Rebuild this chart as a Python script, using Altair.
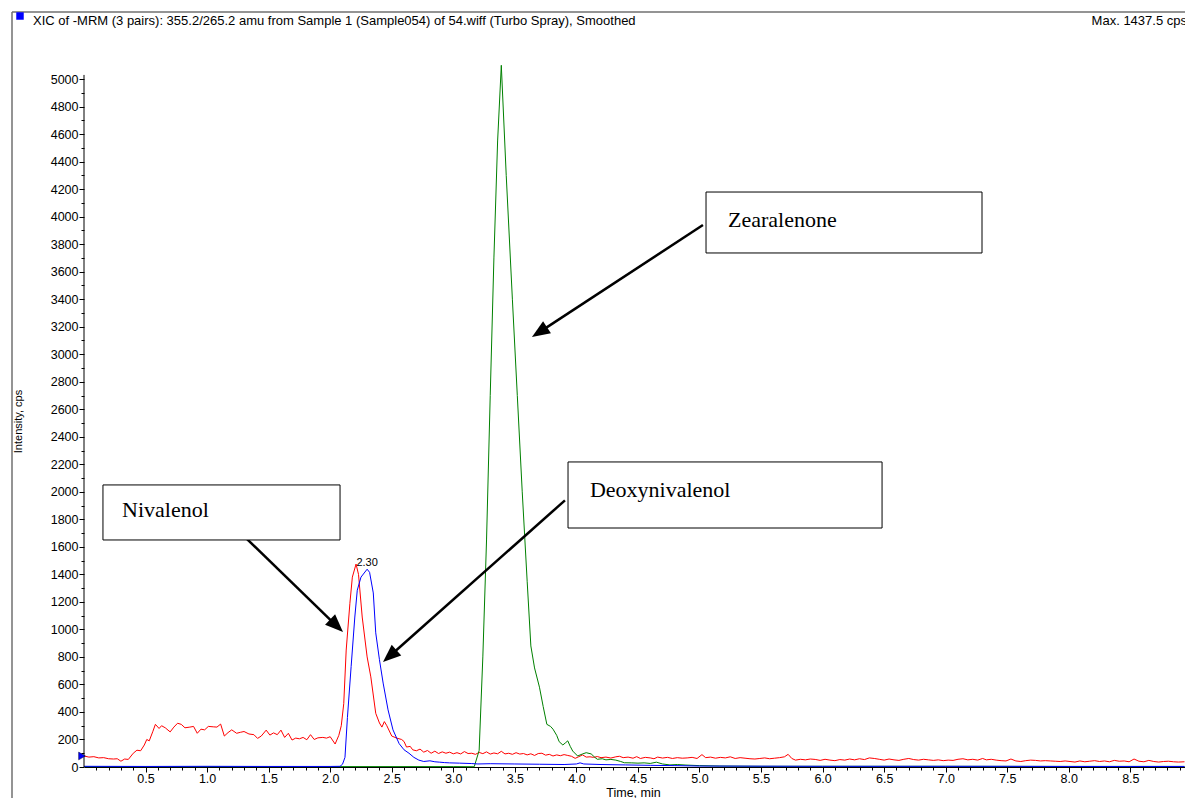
import math
import altair as alt
import pandas as pd

TITLE = "XIC of -MRM (3 pairs): 355.2/265.2 amu from Sample 1 (Sample054) of 54.wiff (Turbo Spray), Smoothed"
MAX_TEXT = "Max. 1437.5 cps"
X_TITLE = "Time, min"
Y_TITLE = "Intensity, cps"

# (time [min], intensity [cps])
NIVALENOL = [
    (0.00, 80), (0.04, 72), (0.08, 75), (0.12, 66), (0.16, 68), (0.20, 60), (0.24, 58), (0.27, 60),
    (0.30, 42), (0.33, 58), (0.36, 55), (0.40, 100), (0.43, 122), (0.46, 118), (0.49, 160), (0.51, 200),
    (0.53, 190), (0.56, 260), (0.58, 310), (0.61, 280), (0.63, 300), (0.66, 285), (0.70, 255), (0.73, 290),
    (0.76, 318), (0.79, 310), (0.82, 285), (0.86, 290), (0.89, 295), (0.92, 245), (0.95, 275), (0.98, 270),
    (1.01, 295), (1.05, 292), (1.08, 290), (1.11, 312), (1.14, 225), (1.17, 250), (1.20, 270), (1.24, 245),
    (1.27, 252), (1.30, 258), (1.34, 240), (1.38, 235), (1.41, 208), (1.44, 225), (1.48, 268), (1.51, 232),
    (1.54, 248), (1.57, 235), (1.60, 268), (1.63, 215), (1.66, 245), (1.69, 196), (1.72, 210), (1.75, 205),
    (1.78, 215), (1.81, 198), (1.84, 235), (1.87, 200), (1.90, 212), (1.94, 215), (1.97, 210), (2.00, 220),
    (2.04, 167), (2.07, 230), (2.09, 300), (2.11, 460), (2.13, 850), (2.16, 1190), (2.18, 1380), (2.21, 1475),
    (2.23, 1400), (2.26, 1090), (2.30, 800), (2.33, 655), (2.37, 390), (2.40, 320), (2.42, 290), (2.44, 330),
    (2.46, 300), (2.50, 225), (2.54, 210), (2.58, 200), (2.60, 185), (2.62, 145), (2.65, 150), (2.67, 125),
    (2.70, 118), (2.73, 130), (2.76, 108), (2.79, 120), (2.82, 100), (2.85, 115), (2.88, 98), (2.91, 110),
    (2.94, 100), (2.97, 108), (3.00, 96), (3.03, 104), (3.06, 95), (3.09, 112), (3.12, 98), (3.15, 100),
    (3.18, 92), (3.21, 106), (3.24, 97), (3.27, 110), (3.30, 94), (3.33, 102), (3.36, 96), (3.39, 114),
    (3.42, 95), (3.45, 100), (3.48, 92), (3.51, 104), (3.54, 94), (3.57, 98), (3.60, 88), (3.63, 96),
    (3.66, 84), (3.69, 98), (3.72, 100), (3.75, 86), (3.78, 92), (3.81, 80), (3.84, 88), (3.87, 82),
    (3.90, 90), (3.93, 84), (3.96, 78), (3.99, 63), (4.02, 75), (4.05, 88), (4.08, 72), (4.11, 74),
    (4.14, 70), (4.17, 76), (4.20, 68), (4.24, 72), (4.28, 65), (4.32, 74), (4.35, 78), (4.38, 68),
    (4.42, 72), (4.46, 64), (4.49, 75), (4.52, 62), (4.56, 70), (4.60, 66), (4.63, 60), (4.66, 72),
    (4.70, 65), (4.74, 70), (4.78, 62), (4.82, 68), (4.86, 64), (4.90, 66), (4.94, 70), (4.98, 62),
    (5.02, 90), (5.05, 68), (5.09, 72), (5.13, 64), (5.17, 70), (5.21, 66), (5.25, 74), (5.29, 62),
    (5.33, 68), (5.37, 64), (5.41, 60), (5.45, 58), (5.49, 62), (5.53, 66), (5.57, 60), (5.61, 64),
    (5.65, 68), (5.69, 74), (5.72, 92), (5.75, 62), (5.78, 50), (5.82, 56), (5.86, 52), (5.90, 58),
    (5.94, 55), (5.98, 48), (6.02, 56), (6.06, 50), (6.10, 46), (6.14, 54), (6.18, 50), (6.22, 58),
    (6.26, 52), (6.30, 60), (6.34, 54), (6.38, 66), (6.42, 62), (6.46, 56), (6.50, 50), (6.54, 58),
    (6.58, 52), (6.62, 48), (6.66, 56), (6.70, 62), (6.74, 54), (6.78, 50), (6.82, 56), (6.86, 52),
    (6.90, 48), (6.94, 52), (6.98, 46), (7.02, 50), (7.06, 48), (7.10, 56), (7.14, 60), (7.18, 52),
    (7.22, 56), (7.26, 50), (7.30, 62), (7.33, 52), (7.37, 56), (7.41, 50), (7.45, 46), (7.49, 44),
    (7.53, 58), (7.57, 44), (7.61, 40), (7.65, 46), (7.69, 50), (7.73, 48), (7.77, 44), (7.81, 46),
    (7.85, 44), (7.89, 42), (7.93, 40), (7.97, 44), (8.01, 40), (8.05, 36), (8.09, 44), (8.13, 38),
    (8.17, 42), (8.21, 46), (8.25, 40), (8.29, 44), (8.33, 38), (8.37, 48), (8.41, 42), (8.45, 44),
    (8.49, 38), (8.53, 58), (8.57, 42), (8.61, 38), (8.65, 48), (8.69, 40), (8.73, 36), (8.77, 40),
    (8.81, 42), (8.85, 38), (8.89, 36), (8.94, 38),
]

DEOXYNIVALENOL = [
    (0.00, 5), (0.50, 4), (1.00, 5), (1.50, 4), (2.00, 4), (2.08, 5), (2.10, 20), (2.12, 70),
    (2.14, 360), (2.17, 730), (2.20, 1090), (2.22, 1285), (2.25, 1380), (2.30, 1437.5), (2.32, 1415),
    (2.35, 1265), (2.37, 975), (2.40, 780), (2.43, 610), (2.47, 415), (2.51, 270), (2.56, 170),
    (2.60, 125), (2.64, 100), (2.68, 70), (2.72, 50), (2.76, 40), (2.81, 45), (2.85, 38), (2.89, 35),
    (2.93, 32), (2.97, 30), (3.05, 28), (3.15, 25), (3.20, 22), (3.30, 24), (3.50, 22), (3.70, 20),
    (3.90, 18), (4.00, 22), (4.03, 30), (4.06, 22), (4.20, 18), (4.40, 15), (4.60, 12), (4.80, 10),
    (5.00, 7), (5.50, 6), (6.00, 5), (6.50, 5), (7.00, 5), (7.50, 5), (8.00, 4), (8.50, 4), (8.94, 4),
]

ZEARALENONE = [
    (0.00, 3), (1.00, 3), (2.00, 3), (3.00, 3), (3.17, 2), (3.21, 120), (3.24, 800), (3.27, 1650),
    (3.30, 2700), (3.33, 3700), (3.36, 4550), (3.39, 5100), (3.43, 4300), (3.48, 3400), (3.52, 2700),
    (3.56, 2000), (3.60, 1350), (3.63, 880), (3.66, 720), (3.70, 580), (3.73, 440), (3.76, 310),
    (3.79, 295), (3.81, 275), (3.84, 230), (3.86, 184), (3.89, 160), (3.91, 175), (3.93, 190),
    (3.95, 150), (3.97, 116), (4.01, 80), (4.05, 95), (4.08, 104), (4.12, 95), (4.15, 70), (4.17, 56),
    (4.21, 60), (4.24, 52), (4.28, 55), (4.32, 50), (4.36, 40), (4.39, 31), (4.45, 30), (4.50, 28),
    (4.55, 30), (4.60, 26), (4.65, 35), (4.70, 22), (4.76, 15), (4.82, 18), (4.89, 14), (5.00, 10),
    (5.16, 7), (5.50, 5), (6.00, 5), (7.00, 5), (8.00, 4), (8.94, 4),
]

PEAK_T = [2.30]
PEAK_V = [1437.5]
PEAK_TEXT = ["2.30"]

LABELS = ["Zearalenone", "Deoxynivalenol", "Nivalenol"]
BOX_X0 = [5.053, 3.932, 0.154]
BOX_X1 = [7.295, 6.483, 2.080]
BOX_Y0 = [3736, 1737, 1650]
BOX_Y1 = [4179, 2217, 2050]
TEXT_X = [5.232, 4.110, 0.309]
TEXT_Y = [3976, 2013, 1868]
ARROW_X0 = [5.028, 3.907, 1.316]
ARROW_Y0 = [3939, 1938, 1664]
ARROW_X1 = [3.639, 2.429, 2.104]
ARROW_Y1 = [3125, 763, 981]

# layout
W, H = 1101, 705
XMAX, YMAX = 8.944, 5124
PXM = W / XMAX
PXU = H / YMAX
SANS = "Liberation Sans"
SERIF = "Liberation Serif"

xs = alt.Scale(domain=[0, XMAX], nice=False, zero=False)
ys = alt.Scale(domain=[0, YMAX], nice=False, zero=False)

XTICKS = [round(0.1 * i, 1) for i in range(1, 90)]
YTICKS = list(range(0, 5001, 100))
x_major = "abs(datum.value*2 - round(datum.value*2)) < 0.001"
y_major = "datum.value % 200 === 0"

x_axis = alt.Axis(
    values=XTICKS, title=X_TITLE, grid=False,
    labelExpr=f"{x_major} ? format(datum.value, '.1f') : ''",
    tickSize={"condition": {"test": x_major, "value": 5}, "value": 3},
    labelFont=SANS, labelFontSize=12.5, labelColor="#000", labelPadding=0,
    labelOverlap=False, labelFlush=False, labelBound=False,
    tickColor="#000", domainColor="#000",
    titleFont=SANS, titleFontSize=12.5, titleFontWeight="normal", titleColor="#000",
    titleX=549, titleY=25, titleBaseline="middle", titleAlign="center",
)
y_axis = alt.Axis(
    values=YTICKS, title=Y_TITLE, grid=False, domain=False,
    labelExpr=f"{y_major} ? format(datum.value, 'd') : ''",
    tickSize={"condition": {"test": y_major, "value": 5}, "value": 3},
    labelFont=SANS, labelFontSize=12.5, labelColor="#000", labelPadding=1,
    labelOverlap=False, labelFlush=False, labelBound=False,
    tickColor="#000",
    titleFont=SANS, titleFontSize=11, titleFontWeight="normal", titleColor="#000",
    titleX=-66, titleY=359, titleAngle=270, titleBaseline="middle", titleAlign="center",
)


def X(field):
    return alt.X(field, type="quantitative", scale=xs, axis=x_axis)


def Y(field):
    return alt.Y(field, type="quantitative", scale=ys, axis=y_axis)


def line(pairs, color):
    df = pd.DataFrame(pairs, columns=["t", "v"])
    return alt.Chart(df).mark_line(color=color, strokeWidth=1).encode(x=X("t"), y=Y("v"))


red = line(NIVALENOL, "#ff0000")
green = line(ZEARALENONE, "#008000")
blue = line(DEOXYNIVALENOL, "#0000ff")

yaxis_line = alt.Chart(pd.DataFrame({"t": [0], "v0": [0], "v1": [5030]})).mark_rule(
    color="#000", strokeWidth=1
).encode(x=X("t"), y=Y("v0"), y2="v1:Q")

start_marker = alt.Chart(pd.DataFrame({"t": [NIVALENOL[0][0]], "v": [NIVALENOL[0][1]]})).mark_point(
    shape="triangle-right", filled=True, size=60, color="#0000ff", stroke="#000033", strokeWidth=0.5,
    opacity=1, xOffset=-2,
).encode(x=X("t"), y=Y("v"))

peak_df = pd.DataFrame({"t": PEAK_T, "v": PEAK_V, "txt": PEAK_TEXT})
peak_lbl = alt.Chart(peak_df).mark_text(
    font=SANS, fontSize=11, color="#000", baseline="bottom", align="center", dy=-1
).encode(x=X("t"), y=Y("v"), text="txt:N")

ann = pd.DataFrame({
    "label": LABELS, "bx0": BOX_X0, "bx1": BOX_X1, "by0": BOX_Y0, "by1": BOX_Y1,
    "tx": TEXT_X, "ty": TEXT_Y,
})

boxes = alt.Chart(ann).mark_rect(fill="white", stroke="#000", strokeWidth=1).encode(
    x=X("bx0"), x2="bx1:Q", y=Y("by0"), y2="by1:Q",
)
box_text = alt.Chart(ann).mark_text(
    font=SERIF, fontSize=22, color="#000", align="left", baseline="middle"
).encode(x=X("tx"), y=Y("ty"), text="label:N")

# arrows: shaft and head, with the direction taken from the annotation coordinates
HEAD_LEN = 18
rows = []
for x0, y0, x1, y1 in zip(ARROW_X0, ARROW_Y0, ARROW_X1, ARROW_Y1):
    dxp = (x1 - x0) * PXM
    dyp = -(y1 - y0) * PXU
    L = math.hypot(dxp, dyp)
    ux, uy = dxp / L, dyp / L
    ex = x1 - ux * (HEAD_LEN - 4) / PXM
    ey = y1 + uy * (HEAD_LEN - 4) / PXU
    ang = math.degrees(math.atan2(dxp, -dyp)) % 360
    rows.append({"x0": x0, "y0": y0, "ex": ex, "ey": ey, "x1": x1, "y1": y1, "ang": ang})
arr = pd.DataFrame(rows)

shafts = alt.Chart(arr).mark_rule(color="#000", strokeWidth=2.5).encode(
    x=X("x0"), y=Y("y0"), x2="ex:Q", y2="ey:Q"
)
heads = alt.Chart(arr).mark_point(
    shape="M0,0L-0.8,2L0.8,2Z", filled=True, color="#000", opacity=1, size=(HEAD_LEN ** 2),
    strokeWidth=0,
).encode(
    x=X("x1"), y=Y("y1"),
    angle=alt.Angle("ang:Q", scale=None),
)

# frame and header
one = pd.DataFrame({"a": [0]})
frame_top = alt.Chart(one).mark_rule(color="#707070", strokeWidth=1.5).encode(
    x=alt.value(-72), x2=alt.value(W + 2), y=alt.value(-50)
)
frame_left = alt.Chart(one).mark_rule(color="#707070", strokeWidth=1.5).encode(
    x=alt.value(-72), y=alt.value(-50), y2=alt.value(H + 32)
)
header_sq = alt.Chart(one).mark_square(
    color="#0000ff", size=56, opacity=1
).encode(x=alt.value(-64), y=alt.value(-46))
header = alt.Chart(pd.DataFrame({"txt": [TITLE]})).mark_text(
    font=SANS, fontSize=13, color="#000", align="left", baseline="middle"
).encode(x=alt.value(-51), y=alt.value(-41), text="txt:N")
maxtxt = alt.Chart(pd.DataFrame({"txt": [MAX_TEXT]})).mark_text(
    font=SANS, fontSize=13, color="#000", align="right", baseline="middle"
).encode(x=alt.value(W + 2), y=alt.value(-41), text="txt:N")

chart = alt.layer(
    red, green, blue, yaxis_line, start_marker, peak_lbl,
    shafts, heads, boxes, box_text,
    frame_top, frame_left, header_sq, header, maxtxt,
).properties(
    width=W, height=H,
    padding={"left": 84, "top": 62, "right": 0, "bottom": 31},
    autosize=alt.AutoSizeParams(type="none"),
    background="white",
).configure_view(stroke=None)

chart.save("out.html", embed_options={"renderer": "svg", "actions": False})
